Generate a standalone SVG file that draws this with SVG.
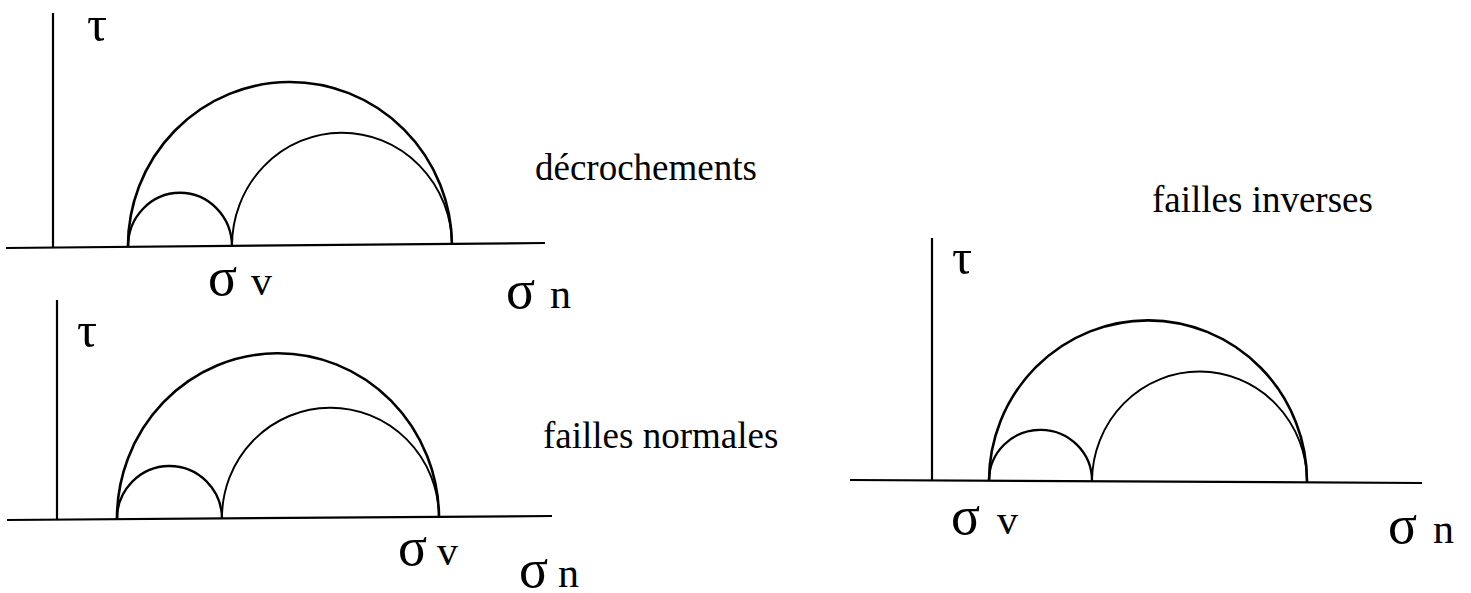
<svg xmlns="http://www.w3.org/2000/svg" width="1471" height="593" viewBox="0 0 1471 593">
<style>
.ax{stroke:#000;stroke-width:2.2;fill:none}
.big{stroke:#000;stroke-width:2.6;fill:none}
.mid{stroke:#000;stroke-width:1.9;fill:none}
.sml{stroke:#000;stroke-width:2.3;fill:none}
.g{font-family:"Liberation Serif","Times New Roman",serif;fill:#000}
.tau{font-size:50px}
.sig{font-size:54px}
.sub{font-size:42px}
.lab{font-family:"Liberation Serif","Times New Roman",serif;font-size:37px;fill:#000}
</style>
<rect width="1471" height="593" fill="#fff"/>
<g id="panel-decrochements">
<line class="ax" x1="53" y1="13" x2="53" y2="248"/>
<line class="ax" x1="6" y1="248" x2="545" y2="243"/>
<path class="big" d="M128 247 A162 164 0 0 1 452 245"/>
<path class="sml" d="M128 247 A52 54 0 0 1 232 246.5"/>
<path class="mid" d="M232 246.5 A110 113 0 0 1 452 245"/>
<text class="g tau" x="87" y="41">τ</text>
<text class="g sig" x="208" y="295">σ</text>
<text class="g sub" x="251" y="295">v</text>
<text class="g sig" x="506" y="308">σ</text>
<text class="g sub" x="550" y="308">n</text>
<text class="lab" x="535" y="180">décrochements</text>
</g>
<g id="panel-failles-normales">
<line class="ax" x1="57" y1="300" x2="57" y2="520"/>
<line class="ax" x1="7" y1="520" x2="552" y2="516"/>
<path class="big" d="M117 519.5 A161 165 0 0 1 439 517"/>
<path class="sml" d="M117 519.5 A52.5 53 0 0 1 222 518.5"/>
<path class="mid" d="M222 518.5 A108.5 110 0 0 1 439 517"/>
<text class="g tau" x="77" y="347">τ</text>
<text class="g sig" x="398" y="565">σ</text>
<text class="g sub" x="437" y="565">v</text>
<text class="g sig" x="519" y="587">σ</text>
<text class="g sub" x="558" y="587">n</text>
<text class="lab" x="543" y="448">failles normales</text>
</g>
<g id="panel-failles-inverses">
<line class="ax" x1="932" y1="238" x2="932" y2="480"/>
<line class="ax" x1="850" y1="480" x2="1422" y2="483"/>
<path class="big" d="M989 480.5 A159 161 0 0 1 1307 482"/>
<path class="sml" d="M989 480.5 A51.5 51 0 0 1 1092 481"/>
<path class="mid" d="M1092 481 A107.5 110 0 0 1 1307 482"/>
<text class="g tau" x="952" y="274">τ</text>
<text class="g sig" x="951" y="534">σ</text>
<text class="g sub" x="997" y="534">v</text>
<text class="g sig" x="1388" y="543">σ</text>
<text class="g sub" x="1433" y="543">n</text>
<text class="lab" x="1152" y="212">failles inverses</text>
</g>
</svg>
